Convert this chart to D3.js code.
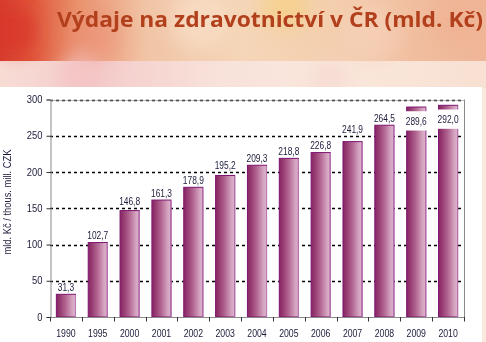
<!DOCTYPE html>
<html>
<head>
<meta charset="utf-8">
<script src="https://cdn.jsdelivr.net/npm/d3@7"></script>
<style>
  html, body { margin: 0; padding: 0; background: #fff; }
  svg { display: block; }
</style>
</head>
<body>
<svg id="chart" width="486" height="342"></svg>
<script>
// Health care expenditure in the Czech Republic, bn CZK
const years = ["1990", "1995", "2000", "2001", "2002", "2003", "2004", "2005", "2006", "2007", "2008", "2009", "2010"];
const values = [31.3, 102.7, 146.8, 161.3, 178.9, 195.2, 209.3, 218.8, 226.8, 241.9, 264.5, 289.6, 292.0];
const yTicks = [0, 50, 100, 150, 200, 250, 300];
const titleText = "Výdaje na zdravotnictví v ČR (mld. Kč)";
const yTitle = "mld. Kč / thous. mill. CZK";

const W = 486, H = 342;
const plot = { left: 50, right: 464, top: 99.5, bottom: 317 };
const fmt = v => d3.format(".1f")(v).replace(".", ",");

const svg = d3.select("#chart");
const defs = svg.append("defs");

// ---- decorative header background ----
const hdr = defs.append("linearGradient").attr("id", "hdrGrad");
[[0, "#d63c2e"], [0.06, "#df5238"], [0.16, "#e9926c"], [0.3, "#f1c4a6"],
 [0.5, "#f5d6b8"], [0.68, "#f4cfae"], [0.85, "#f1bea0"], [1, "#efb698"]]
  .forEach(([o, c]) => hdr.append("stop").attr("offset", o).attr("stop-color", c));
const pale = defs.append("linearGradient").attr("id", "paleGrad");
[[0, "#f7dcd4"], [0.2, "#f4cccb"], [0.45, "#f8e2da"], [0.7, "#fae8dc"], [1, "#f8e0d2"]]
  .forEach(([o, c]) => pale.append("stop").attr("offset", o).attr("stop-color", c));
defs.append("filter").attr("id", "soft").attr("x", "-50%").attr("y", "-50%")
  .attr("width", "200%").attr("height", "200%")
  .append("feGaussianBlur").attr("stdDeviation", 9);

svg.append("rect").attr("width", W).attr("height", H).attr("fill", "#fbe9df");
svg.append("rect").attr("x", 0).attr("y", 0).attr("width", W).attr("height", 61).attr("fill", "url(#hdrGrad)");
svg.append("rect").attr("x", 0).attr("y", 61).attr("width", W).attr("height", 27).attr("fill", "url(#paleGrad)");

const bokeh = svg.append("g").attr("filter", "url(#soft)");
[
  { cx: 14, cy: 30, r: 22, c: "#d8322a", o: 0.7 },
  { cx: 95, cy: 35, r: 26, c: "#ee8e7a", o: 0.45 },
  { cx: 285, cy: 6, r: 24, c: "#f6cf78", o: 0.55 },
  { cx: 200, cy: 20, r: 30, c: "#f8e2cc", o: 0.6 },
  { cx: 370, cy: 35, r: 30, c: "#f7d6c0", o: 0.5 },
  { cx: 455, cy: 20, r: 26, c: "#f0b090", o: 0.5 },
  { cx: 80, cy: 76, r: 22, c: "#f3c2c2", o: 0.7 },
  { cx: 330, cy: 78, r: 20, c: "#f6d2cc", o: 0.5 }
].forEach(b => bokeh.append("circle").attr("cx", b.cx).attr("cy", b.cy).attr("r", b.r)
  .attr("fill", b.c).attr("opacity", b.o));

// white chart panel
svg.append("rect").attr("x", 0).attr("y", 87).attr("width", 482).attr("height", H - 87).attr("fill", "#ffffff");

// ---- title ----
svg.append("text")
  .attr("x", 57).attr("y", 27)
  .attr("font-family", "'Open Sans', 'DejaVu Sans', sans-serif")
  .attr("font-weight", 700).attr("font-size", 22)
  .attr("fill", "#b3401c")
  .attr("textLength", 426).attr("lengthAdjust", "spacingAndGlyphs")
  .text(titleText);

// ---- scales ----
const x = d3.scaleBand().domain(years).range([plot.left, plot.right])
  .paddingInner(0.4).paddingOuter(0.2);
const y = d3.scaleLinear().domain([0, 300]).range([plot.bottom, plot.top]);

const FONT = "'Liberation Sans', Arial, sans-serif";
const INK = "#1b1b3a";
const gridY = d => Math.round(y(d)) + 0.5;

// gridlines (dashed)
svg.append("g").selectAll("line").data(yTicks.filter(t => t > 0)).join("line")
  .attr("x1", plot.left).attr("x2", plot.right)
  .attr("y1", gridY).attr("y2", gridY)
  .attr("stroke", "#000").attr("stroke-width", 1.3).attr("stroke-dasharray", "3,3");

// right border
svg.append("line")
  .attr("x1", plot.right + 0.5).attr("x2", plot.right + 0.5)
  .attr("y1", y(300)).attr("y2", y(0) + 4)
  .attr("stroke", "#8a8a8a").attr("stroke-width", 1);

// ---- bars ----
const barGrad = defs.append("linearGradient").attr("id", "barGrad")
  .attr("x1", 0).attr("x2", 1).attr("y1", 0).attr("y2", 0);
[[0, "#872864"], [0.15, "#94356e"], [0.5, "#b36893"], [0.82, "#d4a2bf"], [1, "#dcb5cc"]]
  .forEach(([o, c]) => barGrad.append("stop").attr("offset", o).attr("stop-color", c));

const data = years.map((yr, i) => ({ year: yr, value: values[i] }));

const bars = svg.append("g");
bars.selectAll("rect").data(data).join("rect")
  .attr("x", d => x(d.year))
  .attr("y", d => y(d.value))
  .attr("width", x.bandwidth())
  .attr("height", d => y(0) - y(d.value))
  .attr("fill", "url(#barGrad)")
  .attr("stroke", "#7c1470").attr("stroke-width", 1);
bars.selectAll("line").data(data).join("line")
  .attr("x1", d => x(d.year) + x.bandwidth()).attr("x2", d => x(d.year) + x.bandwidth())
  .attr("y1", d => y(d.value) + 0.5).attr("y2", y(0))
  .attr("stroke", "#c07ab8").attr("stroke-width", 1);

// ---- axes ----
const yAxis = svg.append("g").attr("transform", `translate(${plot.left + 0.5},0)`)
  .call(d3.axisLeft(y).tickValues(yTicks).tickSize(4).tickPadding(4).tickFormat(d3.format("d")));
yAxis.select(".domain").attr("stroke", "#8a8a8a");
yAxis.selectAll(".tick line").attr("stroke", "#333");
yAxis.selectAll(".tick text")
  .attr("font-family", FONT).attr("font-size", 10).attr("fill", INK)
  .attr("transform", "scale(0.94,1)")
  .attr("x", -8 / 0.94);

// x axis line
svg.append("line")
  .attr("x1", plot.left).attr("x2", plot.right + 0.5)
  .attr("y1", gridY(0)).attr("y2", gridY(0))
  .attr("stroke", "#8a8a8a");
// top border under the 300 gridline
svg.append("line")
  .attr("x1", plot.left).attr("x2", plot.right + 0.5)
  .attr("y1", gridY(300)).attr("y2", gridY(300))
  .attr("stroke", "#8a8a8a").attr("stroke-width", 0.6);

// category boundary ticks
const step = x.step();
const boundaries = years.map(yr => x(yr) - x.paddingOuter() * step).concat([plot.right]);
svg.append("g").selectAll("line").data(boundaries).join("line")
  .attr("x1", d => Math.round(d) + 0.5).attr("x2", d => Math.round(d) + 0.5)
  .attr("y1", y(0)).attr("y2", y(0) + 4.5)
  .attr("stroke", "#333");

// year labels
svg.append("g").selectAll("text").data(years).join("text")
  .attr("transform", d => `translate(${x(d) + x.bandwidth() / 2},337) scale(0.87,1)`)
  .attr("text-anchor", "middle")
  .attr("font-family", FONT).attr("font-size", 10).attr("fill", INK)
  .text(d => d);

// ---- value labels ----
// above the bar, lifted clear of any gridline it would touch;
// labels too close to the top go inside the bar on a white box
const GAP = 3.5, CAP = 7.5;
const labelInside = d => y(d.value) - 14 < plot.top;
const labelY = d => {
  if (labelInside(d)) return y(d.value) + 17.5;
  let b = y(d.value) - GAP;
  yTicks.forEach(t => {
    const g = gridY(t);
    if (g > b - CAP - 1.5 && g < b + 2) b = g - GAP;
  });
  return b;
};

const lbl = svg.append("g");
lbl.selectAll("rect").data(data.filter(labelInside)).join("rect")
  .attr("x", d => x(d.year) + x.bandwidth() / 2 - 13)
  .attr("y", d => labelY(d) - 13.3)
  .attr("width", 26).attr("height", 19.3)
  .attr("fill", "#ffffff");
lbl.selectAll("text").data(data).join("text")
  .attr("transform", d => `translate(${x(d.year) + x.bandwidth() / 2},${labelY(d)}) scale(0.84,1)`)
  .attr("text-anchor", "middle")
  .attr("font-family", FONT).attr("font-size", 10).attr("fill", INK)
  .text(d => fmt(d.value));

// y axis title
svg.append("text")
  .attr("transform", "translate(11,202) rotate(-90)")
  .attr("text-anchor", "middle")
  .attr("font-family", FONT).attr("font-size", 10).attr("fill", INK)
  .attr("textLength", 105).attr("lengthAdjust", "spacingAndGlyphs")
  .text(yTitle);
</script>
</body>
</html>
